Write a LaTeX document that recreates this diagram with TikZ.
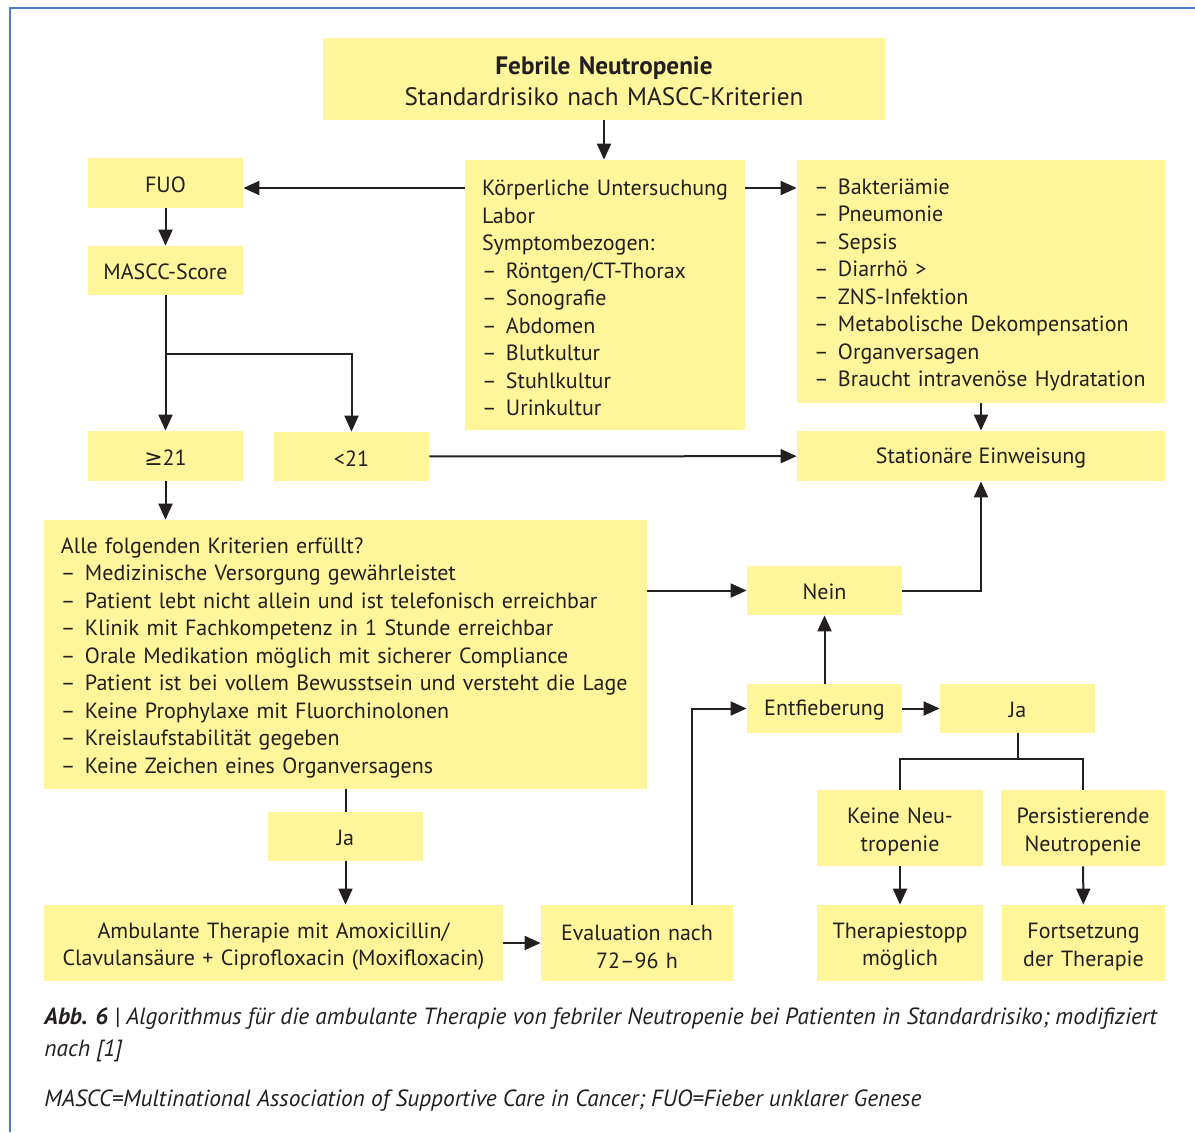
\documentclass[tikz,border=0pt]{standalone}
\usepackage{fontspec}
\setmainfont{PT Sans}
\newfontfamily\symfont{DejaVu Sans}
\usetikzlibrary{arrows.meta, positioning, calc}

\definecolor{boxfill}{RGB}{255,245,155}
\definecolor{inkgray}{RGB}{35,31,32}
\definecolor{frameblue}{RGB}{78,124,206}
\newcommand{\li}{\makebox[12pt][l]{–}}

\begin{document}
\begin{tikzpicture}[x=0.5pt, y=-0.5pt,
          box/.style={rectangle, fill=boxfill, inner sep=0pt, align=center, text=inkgray, font=\fontsize{11}{13.75}\selectfont, execute at begin node={\rule{0pt}{9.5pt}}},
          twobox/.style={box, text width=#1, execute at begin node={\rule{0pt}{11.5pt}}},
          listbox/.style={box, align=left, inner xsep=8.5pt, execute at begin node={\rule{0pt}{11pt}}},
          capt/.style={anchor=base west, inner sep=0pt, text=inkgray, font=\fontsize{11.7}{16}\selectfont\itshape},
          arrow/.style={-{Triangle[length=8pt, width=7pt]}, line width=1pt, draw=inkgray},
          line/.style={line width=1pt, draw=inkgray}]

        \useasboundingbox (0,0) rectangle (1195,1132);
        \draw [frameblue, line width=1.2pt] (10,1132) -- (10,8) -- (1195,8);

        % top of the chart
        \node [twobox=281pt, minimum height=41pt, font=\fontsize{12.6}{15.5}\selectfont] (head) at (604,79) {\textbf{Febrile Neutropenie}\\Standardrisiko nach MASCC-Kriterien};
        \node [listbox, text width=123pt, minimum height=135pt] (exam) at (605,295) {\mbox{Körperliche Untersuchung}\\Labor\\Symptombezogen:\\\li Röntgen/CT-Thorax\\\li Sonografie\\\li Abdomen\\\li Blutkultur\\\li Stuhlkultur\\\li Urinkultur};
        \node [listbox, text width=167pt, minimum height=121.5pt] (compl) at (981,281.5) {\li Bakteriämie\\\li Pneumonie\\\li Sepsis\\\li Diarrhö >\\\li ZNS-Infektion\\\li Metabolische Dekompensation\\\li Organversagen\\\li Braucht intravenöse Hydratation};
        \node [box, minimum width=77.5pt, minimum height=25pt] (fuo) at (165.5,183) {FUO};
        \node [box, minimum width=77.5pt, minimum height=24.5pt] (mascc) at (165.5,270.5) {MASCC-Score};

        % score
        \node [box, minimum width=77.5pt, minimum height=25pt] (hi) at (165.5,456) {{\symfont ≥}21};
        \node [box, minimum width=77.5pt, minimum height=24.5pt] (lo) at (351.5,456.5) {<21};
        \node [box, minimum width=184pt, minimum height=25pt] (stat) at (981,456) {Stationäre Einweisung};
        \node [listbox, text width=284.5pt, minimum height=134.5pt] (krit) at (345.5,654.5) {Alle folgenden Kriterien erfüllt?\\\li Medizinische Versorgung gewährleistet\\\li Patient lebt nicht allein und ist telefonisch erreichbar\\\li Klinik mit Fachkompetenz in 1 Stunde erreichbar\\\li Orale Medikation möglich mit sicherer Compliance\\\li Patient ist bei vollem Bewusstsein und versteht die Lage\\\li Keine Prophylaxe mit Fluorchinolonen\\\li Kreislaufstabilität gegeben\\\li Keine Zeichen eines Organversagens};
        \node [box, minimum width=77.5pt, minimum height=24.5pt] (nein) at (824.5,590.5) {Nein};
        \node [box, minimum width=77.5pt, minimum height=24.5pt] (ja1) at (345.5,836.5) {Ja};

        % ambulant branch
        \node [twobox=229.5pt, minimum height=38pt] (ambu) at (273.5,943) {Ambulante Therapie mit Amoxicillin/\\Clavulansäure + Ciprofloxacin (Moxifloxacin)};
        \node [twobox=96pt, minimum height=38pt] (eval) at (637,943) {Evaluation nach\\72–96 h};
        \node [box, minimum width=77.5pt, minimum height=24.5pt] (entf) at (824.5,708.5) {Entfieberung};
        \node [box, minimum width=77.5pt, minimum height=24.5pt] (ja2) at (1017.5,708.5) {Ja};
        \node [twobox=83pt, minimum height=38pt] (keine) at (900,828) {Keine Neu-\\tropenie};
        \node [twobox=82pt, minimum height=38pt] (pers) at (1083,828) {Persistierende\\Neutropenie};
        \node [twobox=83pt, minimum height=38pt] (stopp) at (900,943) {Therapiestopp\\möglich};
        \node [twobox=81.5pt, minimum height=38pt] (fort) at (1083.5,943) {Fortsetzung\\der Therapie};

        \coordinate (split) at (165.5,354);
        \coordinate (fork) at (1017.5,759);

        \draw [arrow] (head.south) -- (head.south |- exam.north);
        \draw [arrow] ([yshift=-2.5pt]exam.west |- fuo) -- ([yshift=-2.5pt]fuo.east);
        \draw [arrow] ([yshift=-2.5pt]exam.east |- fuo) -- ([yshift=-2.5pt]compl.west |- fuo);
        \draw [arrow] (fuo) -- (mascc);
        \draw [arrow] (mascc) -- (hi);
        \draw [arrow] (split) -| (lo.north);
        \draw [arrow] (lo) -- (stat);
        \draw [arrow] (compl) -- (stat);
        \draw [arrow] (hi.south) -- (hi.south |- krit.north);
        \draw [arrow] (krit.east |- nein) -- (nein);
        \draw [arrow] (nein.east) -| (stat.south);
        \draw [line] (krit.south) -- (ja1.north);
        \draw [arrow] (ja1.south) -- (ja1.south |- ambu.north);
        \draw [arrow] (ambu.east) -- (eval.west);
        \draw [arrow] ([xshift=27.5pt]eval.north) |- (entf.west);
        \draw [arrow] (entf) -- (nein);
        \draw [arrow] (entf) -- (ja2);
        \draw [line] (ja2.south) -- (fork);
        \draw [line] (keine.north) |- (fork) -| (pers.north);
        \draw [arrow] (keine) -- (stopp);
        \draw [arrow] (pers) -- (fort);

        % caption
        \node [capt] (cap1) at (44,1024) {\textbf{Abb. 6} | Algorithmus für die ambulante Therapie von febriler Neutropenie bei Patienten in Standardrisiko; modifiziert};
        \node [capt] (cap2) at (44,1056) {nach [1]};
        \node [capt] (cap3) at (44,1106) {MASCC=Multinational Association of Supportive Care in Cancer; FUO=Fieber unklarer Genese};
      \end{tikzpicture}
\end{document}
